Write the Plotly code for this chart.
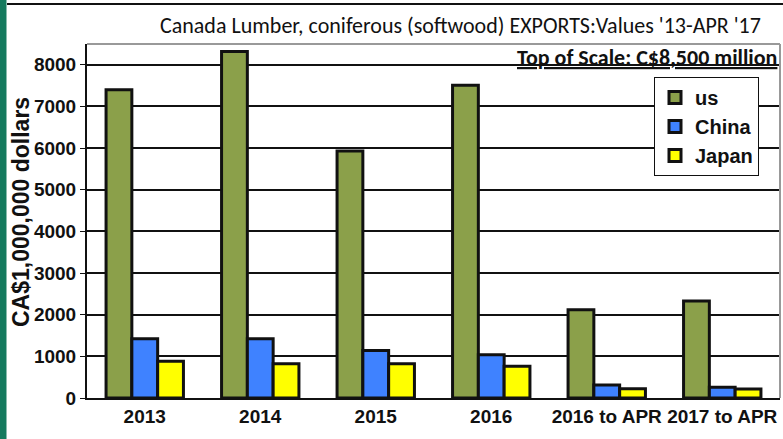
import plotly.graph_objects as go

# values (C$ millions)
periods = ["2013", "2014", "2015", "2016", "2016 to APR", "2017 to APR"]
us_values = [7400, 8320, 5930, 7510, 2120, 2330]
china_values = [1420, 1420, 1140, 1040, 310, 260]
japan_values = [880, 820, 820, 760, 220, 215]

series = [
    ("us", us_values, "#8BA04A"),
    ("China", china_values, "#3F82FF"),
    ("Japan", japan_values, "#FFFF00"),
]

W, H = 783, 439
L, R, T, B = 87, 3, 44, 41
plot_w = W - L - R
plot_h = H - T - B


def px_x(px):
    return (px - L) / plot_w


def px_y(py):
    return (H - B - py) / plot_h


fig = go.Figure()
for name, vals, color in series:
    fig.add_trace(
        go.Bar(
            x=periods,
            y=vals,
            name=name,
            marker=dict(color=color, line=dict(color="#111111", width=3)),
        )
    )

fig.update_layout(
    width=W,
    height=H,
    margin=dict(l=L, r=R, t=T, b=B),
    barmode="group",
    bargap=0.33,
    bargroupgap=0,
    plot_bgcolor="white",
    paper_bgcolor="white",
    font=dict(family="Liberation Sans, Arial", color="#111111"),
    legend=dict(
        x=px_x(654),
        y=px_y(77),
        xanchor="left",
        yanchor="top",
        bgcolor="white",
        bordercolor="#111111",
        borderwidth=1,
        font=dict(family="Liberation Sans, Arial", size=20, color="#111111", weight="bold"),
        itemwidth=30,
        tracegroupgap=0,
    ),
)

fig.update_yaxes(
    range=[0, 8500],
    dtick=1000,
    showgrid=True,
    gridcolor="#111111",
    gridwidth=2,
    zeroline=False,
    showline=True,
    linecolor="#111111",
    linewidth=2,
    ticks="outside",
    ticklen=5,
    tickcolor="#111111",
    tickfont=dict(size=19, weight="bold"),
)
fig.update_xaxes(
    showline=True,
    linecolor="#111111",
    linewidth=2,
    ticks="",
    tickfont=dict(size=19, weight="bold"),
)

# y axis title overlapping the tick labels, like the original
fig.add_annotation(
    text="CA$1,000,000 dollars",
    textangle=-90,
    xref="paper", yref="paper",
    x=px_x(21), y=px_y(212),
    xanchor="center", yanchor="middle",
    showarrow=False,
    font=dict(size=23, weight="bold", color="#111111"),
)

# chart title
fig.add_annotation(
    text="Canada Lumber, coniferous (softwood) EXPORTS:Values '13-APR '17",
    xref="paper", yref="paper",
    x=px_x(158), y=px_y(26),
    xanchor="left", yanchor="middle",
    showarrow=False,
    font=dict(family="Carlito, Lato, sans-serif", size=22, color="#111111"),
)

fig.add_annotation(
    text="<u>Top of Scale: C$8,500 million</u>",
    xref="paper", yref="paper",
    x=px_x(779), y=px_y(58),
    xanchor="right", yanchor="middle",
    showarrow=False,
    font=dict(family="Carlito, Lato, sans-serif", size=22, weight="bold", color="#111111"),
)

# frame details: grey plot border, green left strip, black top rule
fig.add_shape(type="line", xref="paper", yref="paper",
              x0=0, x1=1, y0=1, y1=1, line=dict(color="#999999", width=2))
fig.add_shape(type="line", xref="paper", yref="paper",
              x0=1, x1=1, y0=0, y1=1, line=dict(color="#999999", width=2))
fig.add_shape(type="rect", xref="paper", yref="paper",
              x0=px_x(0), x1=px_x(6.5), y0=px_y(H), y1=px_y(0),
              fillcolor="#157A5E", line=dict(width=0), layer="above")
fig.add_shape(type="line", xref="paper", yref="paper",
              x0=px_x(7), x1=px_x(W), y0=px_y(4), y1=px_y(4),
              line=dict(color="#111111", width=2))

fig.write_html(
    "out.html",
    config={"displayModeBar": False},
    post_script="document.body.style.margin='0';",
)
